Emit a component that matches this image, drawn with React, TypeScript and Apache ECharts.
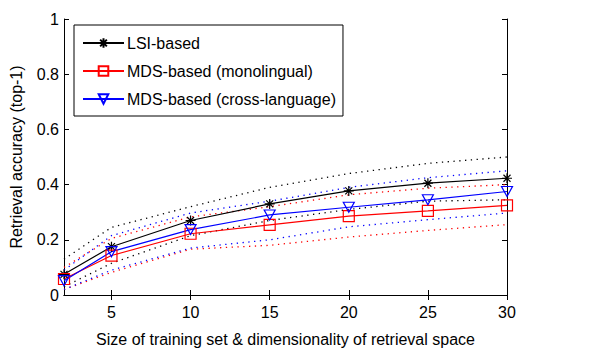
import React, { useEffect, useRef } from "react";
import * as echarts from "echarts";

const xValues = [2, 5, 10, 15, 20, 25, 30];
const xTickLabels = [5, 10, 15, 20, 25, 30];
const yTickLabels = [0, 0.2, 0.4, 0.6, 0.8, 1];

const lsiMean = [0.075, 0.175, 0.27, 0.33, 0.377, 0.405, 0.423];
const lsiUpper = [0.13, 0.245, 0.32, 0.39, 0.44, 0.477, 0.5];
const lsiLower = [0.03, 0.115, 0.215, 0.27, 0.31, 0.34, 0.345];

const monoMean = [0.058, 0.143, 0.222, 0.254, 0.286, 0.305, 0.325];
const monoUpper = [0.1, 0.205, 0.283, 0.32, 0.363, 0.387, 0.4];
const monoLower = [0.02, 0.082, 0.166, 0.18, 0.21, 0.234, 0.255];

const crossMean = [0.052, 0.157, 0.237, 0.29, 0.318, 0.345, 0.375];
const crossUpper = [0.09, 0.215, 0.297, 0.34, 0.39, 0.425, 0.45];
const crossLower = [0.02, 0.09, 0.17, 0.2, 0.247, 0.273, 0.297];

const names = ["LSI-based", "MDS-based (monolingual)", "MDS-based (cross-language)"];

const pair = (ys: number[]) => xValues.map((x, i) => [x, ys[i]]);

const FONT = "Liberation Sans";
const FS = 16;

export default function App() {
  const ref = useRef<HTMLDivElement>(null);
  useEffect(() => {
    if (!ref.current) return;
    const chart = echarts.init(ref.current, null, { renderer: "svg" });
    const starPath = "path://M0,-5L0,5M-5,0L5,0M-3.5,-3.5L3.5,3.5M-3.5,3.5L3.5,-3.5";
    const triPath = "path://M0,0L10,0L5,9Z";
    const dotted = (data: number[], color: string) => ({
      type: "line",
      data: pair(data),
      symbol: "none",
      silent: true,
      lineStyle: { color, width: 1.3, type: [1.3, 4.5] },
      z: 1,
    });
    const main = (name: string, data: number[], color: string, symbol: string, size: number | number[]) => ({
      type: "line",
      name,
      data: pair(data),
      symbol,
      symbolSize: size,
      showAllSymbol: true,
      lineStyle: { color, width: 1.2 },
      itemStyle: { color: "rgba(0,0,0,0)", borderColor: color, borderWidth: 1.2 },
      z: 3,
    });
    chart.setOption({
      animation: false,
      backgroundColor: "#fff",
      grid: { left: 62, right: 87, top: 19, bottom: 54 },
      legend: {
        orient: "vertical",
        left: 74,
        top: 25,
        padding: [10, 7, 9, 8],
        itemGap: 12,
        itemWidth: 41,
        itemHeight: 12,
        borderColor: "#000",
        borderWidth: 1,
        backgroundColor: "#fff",
        textStyle: { fontFamily: FONT, fontSize: FS, color: "#000", padding: [0, 0, 0, -2] },
        data: names,
      },
      xAxis: [
        {
          type: "value",
          min: 2,
          max: 30,
          name: "Size of training set & dimensionality of retrieval space",
          nameLocation: "middle",
          nameGap: 36,
          nameTextStyle: { fontFamily: FONT, fontSize: FS, color: "#000" },
          axisLine: { lineStyle: { color: "#000", width: 1 } },
          axisTick: { inside: true, length: 5, customValues: xTickLabels, lineStyle: { color: "#000" } },
          axisLabel: { customValues: xTickLabels, fontFamily: FONT, fontSize: FS, color: "#000", margin: 9 },
          splitLine: { show: false },
        },
        {
          type: "value",
          position: "top",
          min: 2,
          max: 30,
          axisLine: { lineStyle: { color: "#000", width: 1 } },
          axisTick: { inside: true, length: 5, customValues: xTickLabels, lineStyle: { color: "#000" } },
          axisLabel: { show: false },
          splitLine: { show: false },
        },
      ],
      yAxis: [
        {
          type: "value",
          min: 0,
          max: 1,
          interval: 0.2,
          name: "Retrieval accuracy (top-1)",
          nameLocation: "middle",
          nameGap: 40,
          nameTextStyle: { fontFamily: FONT, fontSize: FS, color: "#000" },
          axisLine: { show: true, lineStyle: { color: "#000", width: 1 } },
          axisTick: { show: true, inside: true, length: 5, lineStyle: { color: "#000" } },
          axisLabel: { fontFamily: FONT, fontSize: FS, color: "#000", margin: 5 },
          splitLine: { show: false },
        },
        {
          type: "value",
          position: "right",
          min: 0,
          max: 1,
          interval: 0.2,
          axisLine: { show: true, lineStyle: { color: "#000", width: 1 } },
          axisTick: { show: true, inside: true, length: 5, lineStyle: { color: "#000" } },
          axisLabel: { show: false },
          splitLine: { show: false },
        },
      ],
      series: [
        dotted(lsiUpper, "#000"),
        dotted(lsiLower, "#000"),
        dotted(monoUpper, "#ff0000"),
        dotted(monoLower, "#ff0000"),
        dotted(crossUpper, "#0000ff"),
        dotted(crossLower, "#0000ff"),
        main(names[0], lsiMean, "#000", starPath, 10),
        main(names[1], monoMean, "#ff0000", "rect", 11),
        main(names[2], crossMean, "#0000ff", triPath, [11, 10]),
      ],
    });
    return () => chart.dispose();
  }, []);
  return <div ref={ref} style={{ width: 594, height: 352, position: "absolute", left: 0, top: 0 }} />;
}
